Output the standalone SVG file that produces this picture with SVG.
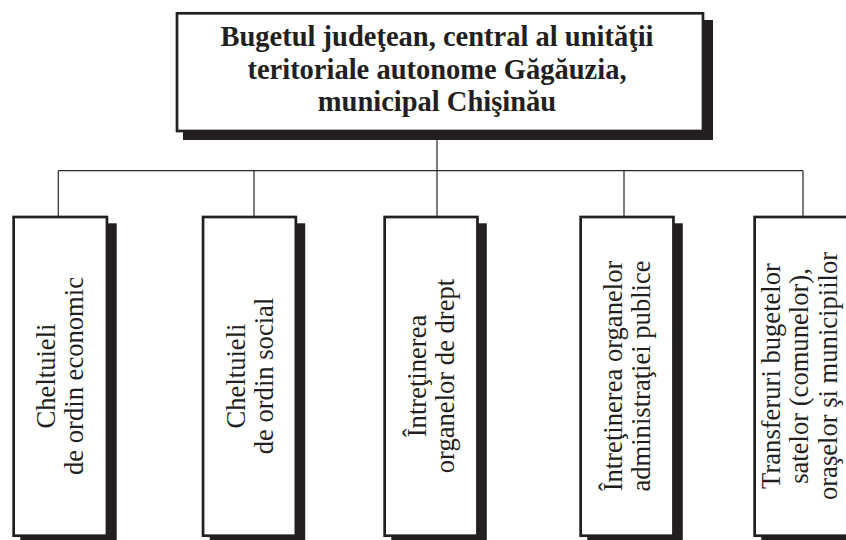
<svg xmlns="http://www.w3.org/2000/svg" width="846" height="540" viewBox="0 0 846 540">
  <style>
    .shadow { fill: #231f20; }
    .box { fill: #ffffff; stroke: #231f20; stroke-width: 2.7; }
    .link { fill: none; stroke: #2a2627; stroke-width: 1.2; }
    .title { font-family: "Liberation Serif", "DejaVu Serif", serif; font-weight: bold; font-size: 28.5px; fill: #231f20; text-anchor: middle; }
    .label { font-family: "Liberation Serif", "DejaVu Serif", serif; font-size: 26.6px; fill: #231f20; text-anchor: middle; }
  </style>

  <rect width="846" height="540" fill="#ffffff"/>

  <!-- connectors -->
  <g id="connectors">
    <path class="link" d="M437 132 V170.7 M58.3 170.7 H803 M58.3 170.7 V216 M254 170.7 V216 M437 170.7 V216 M624 170.7 V216 M803 170.7 V216"/>
  </g>

  <!-- root -->
  <g id="root">
    <rect class="shadow" x="183" y="20" width="530" height="120"/>
    <rect class="box" x="177" y="13.3" width="526" height="117.7"/>
    <text class="title" x="437" y="45.5">Bugetul judeţean, central al unităţii</text>
    <text class="title" x="437" y="78.5">teritoriale autonome Găgăuzia,</text>
    <text class="title" x="437" y="110.5">municipal Chişinău</text>
  </g>

  <!-- expenditure categories -->
  <g id="economic">
    <rect class="shadow" x="20.3" y="223.3" width="96.4" height="330"/>
    <rect class="box" x="13.65" y="217" width="93.3" height="318.7"/>
    <g transform="translate(60.3 376) rotate(-90)">
      <text class="label" x="0" y="-5">Cheltuieli</text>
      <text class="label" x="0" y="23">de ordin economic</text>
    </g>
  </g>

  <g id="social">
    <rect class="shadow" x="209.7" y="223.3" width="95.5" height="330"/>
    <rect class="box" x="203.05" y="217" width="92.8" height="318.7"/>
    <g transform="translate(249.2 376) rotate(-90)">
      <text class="label" x="0" y="-4">Cheltuieli</text>
      <text class="label" x="0" y="24">de ordin social</text>
    </g>
  </g>

  <g id="law">
    <rect class="shadow" x="391.3" y="223.3" width="95.5" height="330"/>
    <rect class="box" x="384.65" y="217" width="92.8" height="318.7"/>
    <g transform="translate(430.8 376) rotate(-90)">
      <text class="label" x="0" y="-5">Întreţinerea</text>
      <text class="label" x="0" y="23">organelor de drept</text>
    </g>
  </g>

  <g id="administration">
    <rect class="shadow" x="587.3" y="223.3" width="95.5" height="330"/>
    <rect class="box" x="580.65" y="217" width="92.8" height="318.7"/>
    <g transform="translate(627 376) rotate(-90)">
      <text class="label" x="0" y="-5">Întreţinerea organelor</text>
      <text class="label" x="0" y="23">administraţiei publice</text>
    </g>
  </g>

  <g id="transfers">
    <rect class="shadow" x="761.3" y="223.3" width="95.5" height="330"/>
    <rect class="box" x="754.65" y="217" width="92.8" height="318.7"/>
    <g transform="translate(801 376) rotate(-90)">
      <text class="label" x="0" y="-21">Transferuri bugetelor</text>
      <text class="label" x="0" y="7">satelor (comunelor),</text>
      <text class="label" x="0" y="35.5">oraşelor şi municipiilor</text>
    </g>
  </g>
</svg>
